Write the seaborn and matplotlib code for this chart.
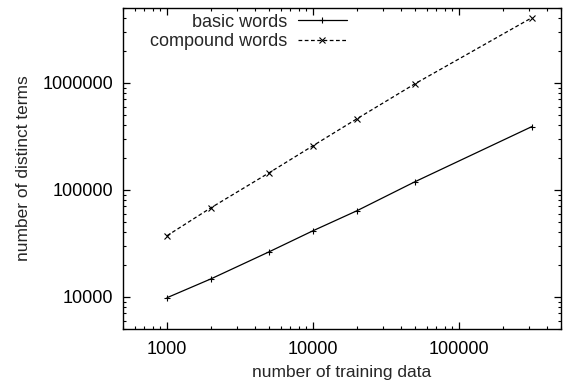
import numpy as np
import pandas as pd
import matplotlib
matplotlib.use("Agg")
import matplotlib.pyplot as plt
import matplotlib.ticker as mticker
import seaborn as sns

# data
training_sizes = [1000, 2000, 5000, 10000, 20000, 50000, 315000]
basic_terms = [9800, 14700, 26300, 41400, 63700, 119000, 389000]
compound_terms = [37200, 67900, 144000, 258000, 461000, 980000, 4050000]
series_names = ["basic words", "compound words"]

df = pd.concat([
    pd.DataFrame({"size": training_sizes, "terms": basic_terms, "kind": series_names[0]}),
    pd.DataFrame({"size": training_sizes, "terms": compound_terms, "kind": series_names[1]}),
])

sns.set_style("ticks")
plt.rcParams["font.family"] = ["Liberation Sans", "DejaVu Sans"]

fig = plt.figure(figsize=(5.63, 3.83), dpi=100)
ax = fig.add_axes([0.2185, 0.141, 0.9964 - 0.2185, 0.979 - 0.141])

sns.lineplot(
    data=df, x="size", y="terms", hue="kind", style="kind",
    palette=["black", "black"], dashes=["", (3, 2)],
    markers=["+", "x"], markersize=4.5, markeredgewidth=0.8,
    markeredgecolor="black", linewidth=0.9, ax=ax,
)

ax.set_xscale("log")
ax.set_yscale("log")
ax.set_xlim(500, 500000)
ax.set_ylim(5000, 5000000)

fmt = mticker.FuncFormatter(lambda v, p: f"{int(round(v))}")
ax.xaxis.set_major_locator(mticker.FixedLocator([1000, 10000, 100000]))
ax.yaxis.set_major_locator(mticker.FixedLocator([10000, 100000, 1000000]))
ax.xaxis.set_major_formatter(fmt)
ax.yaxis.set_major_formatter(fmt)
ax.xaxis.set_minor_locator(mticker.LogLocator(base=10, subs=np.arange(2, 10), numticks=20))
ax.yaxis.set_minor_locator(mticker.LogLocator(base=10, subs=np.arange(2, 10), numticks=20))
ax.xaxis.set_minor_formatter(mticker.NullFormatter())
ax.yaxis.set_minor_formatter(mticker.NullFormatter())

ax.tick_params(which="both", direction="in", top=True, right=True, labelsize=13, colors="black")
ax.tick_params(which="major", length=5, width=0.9)
ax.tick_params(which="minor", length=2.5, width=0.8)
ax.tick_params(axis="y", which="major", pad=7)
ax.tick_params(axis="x", which="major", pad=9)
for s in ax.spines.values():
    s.set_linewidth(1.0)
    s.set_color("black")

ax.set_xlabel("number of training data", fontsize=12.5, labelpad=5)
ax.set_ylabel("number of distinct terms", fontsize=12.5, labelpad=8)

leg = ax.legend(
    loc="upper right", markerfirst=False, frameon=False, fontsize=13,
    handlelength=2.7, handletextpad=0.6, labelspacing=0.12,
    borderaxespad=0, bbox_to_anchor=(0.527, 1.005),
)

fig.savefig("out.png", dpi=100)
